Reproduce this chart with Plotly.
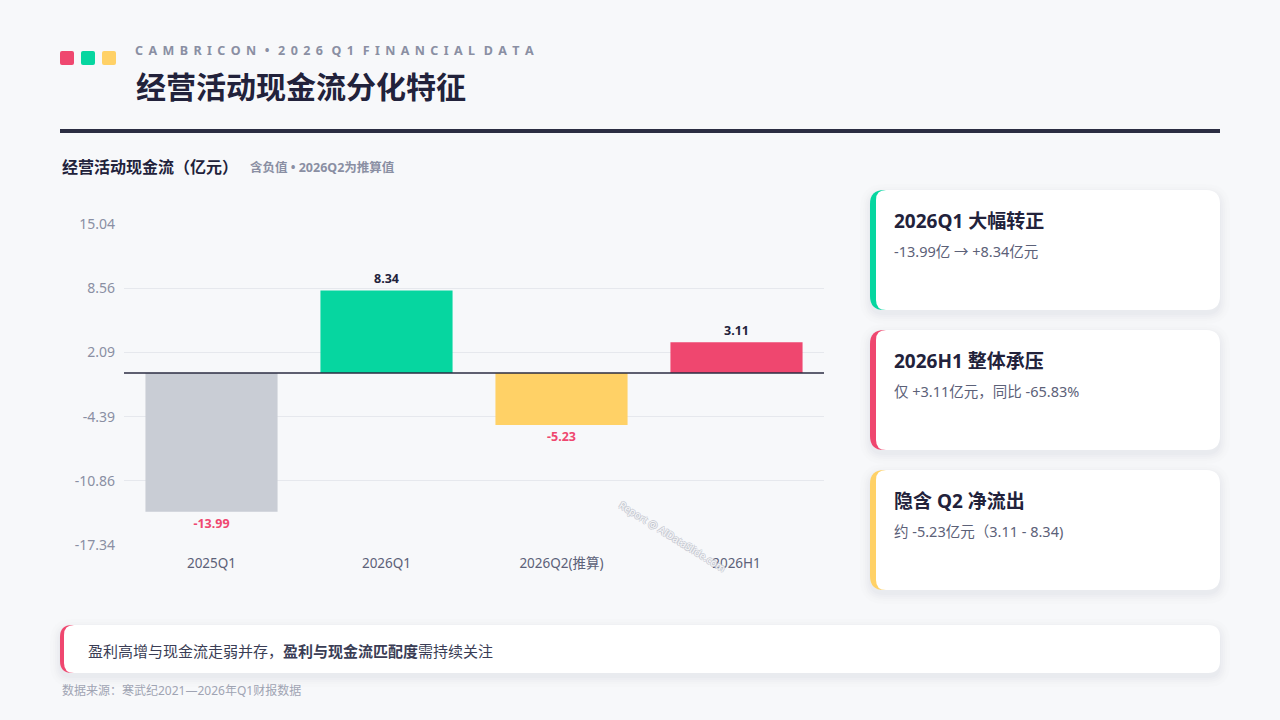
import plotly.graph_objects as go

# ---------------- data ----------------
categories = ["2025Q1", "2026Q1", "2026Q2(推算)", "2026H1"]
cash_flow = [-13.99, 8.34, -5.23, 3.11]
bar_colors = ["#c9cdd5", "#06d6a0", "#ffd166", "#ef476f"]
y_tick_vals = [15.04, 8.56, 2.09, -4.39, -10.86, -17.34]
y_tick_text = ["15.04", "8.56", "2.09", "-4.39", "-10.86", "-17.34"]

card_titles = ["2026Q1 大幅转正", "2026H1 整体承压", "隐含 Q2 净流出"]
card_texts = ["-13.99亿 → +8.34亿元", "仅 +3.11亿元，同比 -65.83%", "约 -5.23亿元（3.11 - 8.34)"]
card_colors = ["#06d6a0", "#ef476f", "#ffd166"]

W, H = 1280, 720
FONT = "Noto Sans, Noto Sans CJK SC, sans-serif"
DARK = "#22223b"
GRAY = "#8a8fa3"


def px(x):
    return x / W


def py(y):
    return 1 - y / H


def rr_path(x0, y0, x1, y1, rl, rr=None):
    if rr is None:
        rr = rl
    pts = [
        f"M {px(x0+rl)},{py(y0)}",
        f"L {px(x1-rr)},{py(y0)}",
        f"Q {px(x1)},{py(y0)} {px(x1)},{py(y0+rr)}",
        f"L {px(x1)},{py(y1-rr)}",
        f"Q {px(x1)},{py(y1)} {px(x1-rr)},{py(y1)}",
        f"L {px(x0+rl)},{py(y1)}",
        f"Q {px(x0)},{py(y1)} {px(x0)},{py(y1-rl)}",
        f"L {px(x0)},{py(y0+rl)}",
        f"Q {px(x0)},{py(y0)} {px(x0+rl)},{py(y0)}",
        "Z",
    ]
    return " ".join(pts)


shapes = []
annotations = []


def rect(x0, y0, x1, y1, color, r=0, rr=None, layer="below"):
    if r == 0 and rr is None:
        shapes.append(dict(type="rect", xref="paper", yref="paper",
                           x0=px(x0), x1=px(x1), y0=py(y1), y1=py(y0),
                           fillcolor=color, line=dict(width=0), layer=layer))
    else:
        shapes.append(dict(type="path", xref="paper", yref="paper",
                           path=rr_path(x0, y0, x1, y1, r, rr),
                           fillcolor=color, line=dict(width=0), layer=layer))


def text(x, y, s, size, color, xanchor="left", bold=False, **kw):
    if bold:
        s = f"<b>{s}</b>"
    annotations.append(dict(xref="paper", yref="paper", x=px(x), y=py(y),
                            text=s, showarrow=False, xanchor=xanchor, yanchor="middle",
                            font=dict(size=size, color=color, family=FONT), **kw))


def shadow_card(x0, y0, x1, y1, r):
    for i, a in [(10, 0.006), (7, 0.008), (5, 0.010), (3, 0.012), (1, 0.014)]:
        rect(x0 - i, y0 - i + 4, x1 + i, y1 + i + 4, f"rgba(30,35,60,{a})", r + i)


# ---------------- header ----------------
rect(60, 51, 74, 65, "#ef476f", 2)
rect(81, 51, 95, 65, "#06d6a0", 2)
rect(102, 51, 116, 65, "#ffd166", 2)
TS = "\u2009\u2009\u200a"
kicker_words = ["CAMBRICON", "•", "2026", "Q1", "FINANCIAL", "DATA"]
kicker = (" " + TS).join(TS.join(list(w)) for w in kicker_words)
text(133, 51, kicker, 12.5, GRAY, bold=True)
text(134, 86, "经营活动现金流分化特征", 30, DARK, bold=True)
rect(60, 129, 1220, 133, "#2b2d42")

# chart heading
text(60, 167, "经营活动现金流（亿元）", 16, DARK, bold=True)
text(248, 167, "含负值 • 2026Q2为推算值", 12.5, GRAY, bold=True)

# ---------------- cards ----------------
for i, (t, s, c) in enumerate(zip(card_titles, card_texts, card_colors)):
    top = 190 + 140 * i
    shadow_card(870, top, 1220, top + 120, 14)
    rect(870, top, 900, top + 120, c, 14, 0)
    rect(876, top, 1220, top + 120, "#ffffff", 10, 14)
    text(892, top + 31, t, 19, DARK, bold=True)
    text(892, top + 61, s, 14.5, "#5c6178")

# ---------------- bottom callout ----------------
shadow_card(60, 625, 1220, 673, 12)
rect(60, 625, 90, 673, "#ef476f", 12, 0)
rect(64, 625, 1220, 673, "#ffffff", 10, 12)
text(86, 651, "盈利高增与现金流走弱并存，<b>盈利与现金流匹配度</b>需持续关注", 15, "#3a3d55")
text(60, 690, "数据来源：寒武纪2021—2026年Q1财报数据", 12, "#a0a4b3")

# watermark
annotations.append(dict(xref="paper", yref="paper", x=px(672), y=py(536),
                        xanchor="center", yanchor="middle",
                        text="Report @ AIDataSlide.com", showarrow=False, textangle=32,
                        font=dict(size=10, color="rgba(255,255,255,0.9)", family=FONT,
                                  shadow="1px 0 0 #c4c7d0, -1px 0 0 #c4c7d0, 0 1px 0 #c4c7d0, 0 -1px 0 #c4c7d0")))

# ---------------- bar chart ----------------
label_colors = [DARK if v >= 0 else "#ef476f" for v in cash_flow]
fig = go.Figure(go.Bar(
    x=categories, y=cash_flow,
    marker=dict(color=bar_colors, line=dict(width=0)),
    text=[f"{v:.2f}" for v in cash_flow],
    texttemplate="<b>%{text}</b>",
    textposition="outside",
    textfont=dict(size=12.5, color=label_colors, family=FONT),
    cliponaxis=False,
    hoverinfo="skip",
    width=0.755,
))

# zero line
shapes.append(dict(type="line", xref="x domain", yref="y", x0=0, x1=1, y0=0, y1=0,
                   line=dict(color="#2b2d42", width=1.5), layer="above"))

fig.update_layout(
    template="none",
    width=W, height=H,
    autosize=False,
    margin=dict(l=0, r=0, t=0, b=0, pad=0, autoexpand=False),
    paper_bgcolor="#f7f8fa",
    plot_bgcolor="rgba(0,0,0,0)",
    showlegend=False,
    hovermode=False,
    font=dict(family=FONT),
    xaxis=dict(domain=[px(124), px(824)], showgrid=False, zeroline=False,
               showline=False, ticks="", fixedrange=True, automargin=False,
               ticklabelstandoff=8,
               tickfont=dict(size=13.5, color="#5c6178", family=FONT)),
    yaxis=dict(domain=[py(545), py(224)], range=[-17.34, 15.04],
               tickvals=y_tick_vals, ticktext=y_tick_text, fixedrange=True,
               automargin=False,
               showgrid=True, gridcolor="#e6e8ed", gridwidth=1,
               zeroline=False, showline=False, ticks="",
               ticklabelstandoff=8,
               tickfont=dict(size=14, color=GRAY, family=FONT)),
    shapes=shapes,
    annotations=annotations,
)

post = (
    "var s=document.createElement('style');"
    "s.textContent='html,body{margin:0;padding:0;overflow:hidden;background:#f7f8fa;}';"
    "document.head.appendChild(s);"
)
fig.write_html("out.html", config={"displayModeBar": False, "staticPlot": True},
               post_script=post)
